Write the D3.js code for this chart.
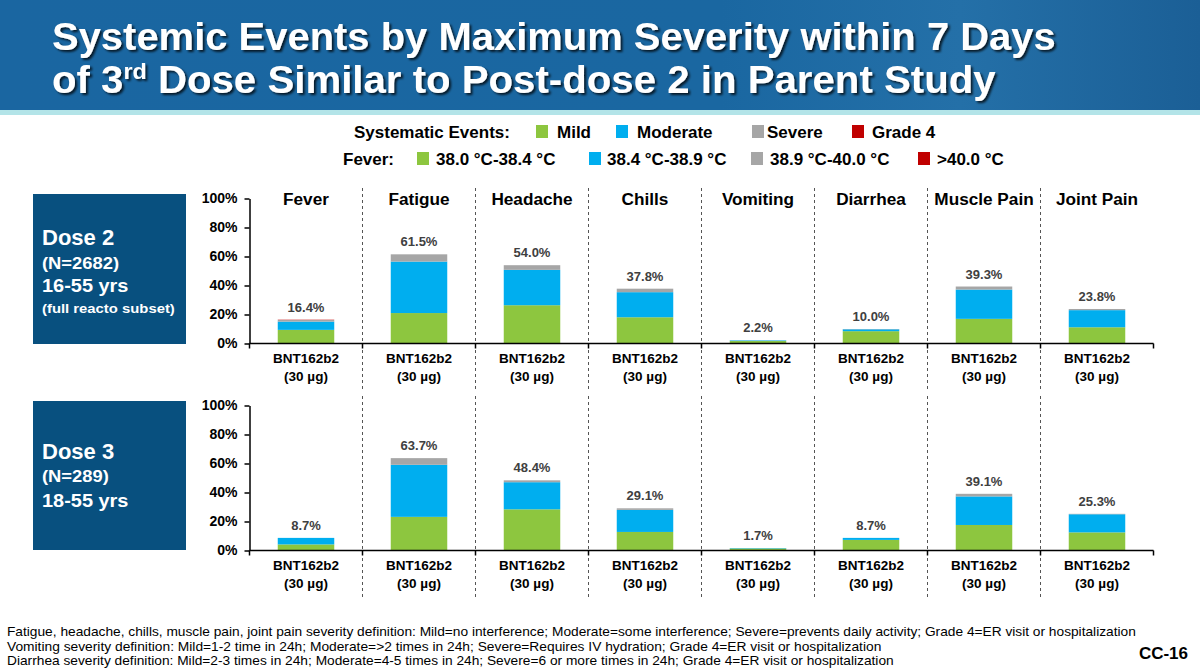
<!DOCTYPE html>
<html>
<head>
<meta charset="utf-8">
<script src="https://cdn.jsdelivr.net/npm/d3@7"></script>
<style>
  html, body { margin: 0; padding: 0; background: #fff; }
  svg { display: block; font-family: "Liberation Sans", Arial, sans-serif; }
</style>
</head>
<body>
<svg id="chart" width="1200" height="672"></svg>
<script>
// ---------------- DATA ----------------
const categories = ["Fever", "Fatigue", "Headache", "Chills", "Vomiting", "Diarrhea", "Muscle Pain", "Joint Pain"];
const severityKeys = ["mild", "moderate", "severe", "grade4"];
const xLabelLine1 = "BNT162b2";
const xLabelLine2 = "(30 µg)";
const yTicks = [0, 20, 40, 60, 80, 100];

// Dose 2 (N=2682) values, % of participants
const dose2Mild     = [9.4, 21.0, 26.4, 18.1, 1.7, 8.5, 17.0, 11.2];
const dose2Moderate = [5.7, 35.5, 24.4, 17.3, 0.4, 1.3, 20.2, 11.8];
const dose2Severe   = [1.1, 5.0, 3.2, 2.4, 0.1, 0.2, 2.1, 0.8];
const dose2Grade4   = [0.2, 0.0, 0.0, 0.0, 0.0, 0.0, 0.0, 0.0];
const dose2Totals   = ["16.4%", "61.5%", "54.0%", "37.8%", "2.2%", "10.0%", "39.3%", "23.8%"];

// Dose 3 (N=289) values
const dose3Mild     = [4.2, 23.2, 28.4, 12.8, 1.4, 7.3, 17.6, 12.5];
const dose3Moderate = [4.5, 35.9, 18.7, 15.2, 0.3, 1.4, 19.7, 12.5];
const dose3Severe   = [0.0, 4.6, 1.3, 1.1, 0.0, 0.0, 1.8, 0.3];
const dose3Grade4   = [0.0, 0.0, 0.0, 0.0, 0.0, 0.0, 0.0, 0.0];
const dose3Totals   = ["8.7%", "63.7%", "48.4%", "29.1%", "1.7%", "8.7%", "39.1%", "25.3%"];

const legendEventLabels = ["Mild", "Moderate", "Severe", "Grade 4"];
const legendFeverLabels = ["38.0 °C-38.4 °C", "38.4 °C-38.9 °C", "38.9 °C-40.0 °C", ">40.0 °C"];

const panels = [
  { mild: dose2Mild, moderate: dose2Moderate, severe: dose2Severe, grade4: dose2Grade4, totals: dose2Totals,
    boxLines: ["Dose 2", "(N=2682)", "16-55 yrs", "(full reacto subset)"], showTitles: true },
  { mild: dose3Mild, moderate: dose3Moderate, severe: dose3Severe, grade4: dose3Grade4, totals: dose3Totals,
    boxLines: ["Dose 3", "(N=289)", "18-55 yrs"], showTitles: false }
];

const footnotes = [
  "Fatigue, headache, chills, muscle pain, joint pain severity definition: Mild=no interference; Moderate=some interference; Severe=prevents daily activity; Grade 4=ER visit or hospitalization",
  "Vomiting severity definition: Mild=1-2 time in 24h; Moderate=>2 times in 24h; Severe=Requires IV hydration; Grade 4=ER visit or hospitalization",
  "Diarrhea severity definition: Mild=2-3 times in 24h; Moderate=4-5 times in 24h; Severe=6 or more times in 24h; Grade 4=ER visit or hospitalization"
];

// ---------------- STYLE ----------------
const colors = { mild: "#8dc63f", moderate: "#00aeef", severe: "#a6a6a6", grade4: "#c00000" };
const FONT = "'Liberation Sans', Arial, sans-serif";

const svg = d3.select("#chart");

// ---------------- HEADER ----------------
const defs = svg.append("defs");
const grad = defs.append("linearGradient").attr("id", "hdr").attr("x1", 0).attr("x2", 1).attr("y1", 0).attr("y2", 0);
grad.append("stop").attr("offset", "0%").attr("stop-color", "#1a66a1");
grad.append("stop").attr("offset", "60%").attr("stop-color", "#1a67a1");
grad.append("stop").attr("offset", "80%").attr("stop-color", "#2470a8");
grad.append("stop").attr("offset", "100%").attr("stop-color", "#1b5f96");
const shadow = defs.append("filter").attr("id", "shadow").attr("x", "-5%").attr("y", "-20%").attr("width", "110%").attr("height", "150%");
shadow.append("feDropShadow").attr("dx", 2).attr("dy", 2).attr("stdDeviation", 1.2).attr("flood-color", "#000").attr("flood-opacity", 0.75);

svg.append("rect").attr("x", 0).attr("y", 0).attr("width", 1200).attr("height", 110).attr("fill", "url(#hdr)");
svg.append("rect").attr("x", 0).attr("y", 110).attr("width", 1200).attr("height", 5).attr("fill", "#b3e4e8");

function fitWidth(sel, target) {
  const w = sel.node().getBBox().width;
  if (w > 0) {
    const x = +sel.attr("x") || 0;
    sel.attr("transform", `translate(${x},0) scale(${target / w},1) translate(${-x},0)`);
  }
}

const t1 = svg.append("text").attr("x", 52).attr("y", 50)
  .attr("fill", "#fff").attr("font-weight", "bold").attr("font-size", 38).attr("filter", "url(#shadow)")
  .text("Systemic Events by Maximum Severity within 7 Days");
fitWidth(t1, 1004);
const t2 = svg.append("text").attr("x", 52).attr("y", 93)
  .attr("fill", "#fff").attr("font-weight", "bold").attr("font-size", 38).attr("filter", "url(#shadow)");
t2.append("tspan").text("of 3");
t2.append("tspan").attr("font-size", 22).attr("dy", -14).text("rd");
t2.append("tspan").attr("dy", 14).text(" Dose Similar to Post-dose 2 in Parent Study");
fitWidth(t2, 944);

// ---------------- LEGEND ----------------
const legend = svg.append("g").attr("font-weight", "bold").attr("font-size", 17).attr("fill", "#000");
legend.append("text").attr("x", 354).attr("y", 138).text("Systematic Events:");
const evSq = [536, 616, 752, 852];
const evTx = [557, 637, 767, 872];
severityKeys.forEach((k, i) => {
  legend.append("rect").attr("x", evSq[i]).attr("y", 125).attr("width", 12).attr("height", 13).attr("fill", colors[k]);
  legend.append("text").attr("x", evTx[i]).attr("y", 138).text(legendEventLabels[i]);
});
legend.append("text").attr("x", 343).attr("y", 165).text("Fever:");
const fvSq = [417, 589, 751, 918];
const fvTx = [436, 607, 770, 937];
severityKeys.forEach((k, i) => {
  legend.append("rect").attr("x", fvSq[i]).attr("y", 152).attr("width", 12).attr("height", 13).attr("fill", colors[k]);
  legend.append("text").attr("x", fvTx[i]).attr("y", 165).text(legendFeverLabels[i]);
});

// ---------------- PANELS ----------------
const x = d3.scaleBand().domain(categories).range([249.5, 1153.5]).padding(0);
const barW = x.bandwidth() * 0.5;
const panelGeom = [
  { base: 343.5, top: 198.5, boxY: 194, boxH: 150, sepTop: 188, sepBot: 392, lab1: 363, lab2: 381, lineY: [245, 269, 292, 313] },
  { base: 550.5, top: 405.5, boxY: 401, boxH: 149, sepTop: 396, sepBot: 598, lab1: 570, lab2: 588, lineY: [459, 482, 507] }
];
const lineSz = [22, 17, 17.5, 13.5];
const lineStretch = [1.0, 1.08, 1.14, 1.1];

panels.forEach((p, pi) => {
  const g = panelGeom[pi];
  const y = d3.scaleLinear().domain([0, 100]).range([g.base, g.top]);
  const pg = svg.append("g");

  // left box
  pg.append("rect").attr("x", 33).attr("y", g.boxY).attr("width", 153).attr("height", g.boxH).attr("fill", "#08507f");
  const bt = pg.append("g").attr("fill", "#fff").attr("font-weight", "bold");
  p.boxLines.forEach((l, i) => {
    const t = bt.append("text").attr("x", 42).attr("y", g.lineY[i]).attr("font-size", lineSz[i]).text(l);
    const w = t.node().getBBox().width;
    fitWidth(t, w * lineStretch[i]);
  });

  // dashed separators
  const seps = categories.slice(1).map(c => x(c));
  pg.selectAll(".sep").data(seps).join("line")
    .attr("x1", d => d).attr("x2", d => d)
    .attr("y1", g.sepTop).attr("y2", g.sepBot)
    .attr("stroke", "#555").attr("stroke-width", 1).attr("stroke-dasharray", "3,3");

  // stacked bars
  const rows = categories.map((c, i) => ({ cat: c, mild: p.mild[i], moderate: p.moderate[i], severe: p.severe[i], grade4: p.grade4[i] }));
  const stacked = d3.stack().keys(severityKeys)(rows);
  stacked.forEach(layer => {
    pg.selectAll(null).data(layer).join("rect")
      .attr("x", d => x(d.data.cat) + (x.bandwidth() - barW) / 2)
      .attr("width", barW)
      .attr("y", d => y(d[1]))
      .attr("height", d => Math.max(0, y(d[0]) - y(d[1])))
      .attr("fill", colors[layer.key]);
  });

  // total labels
  pg.selectAll(null).data(rows).join("text")
    .attr("x", d => x(d.cat) + x.bandwidth() / 2)
    .attr("y", d => y(d.mild + d.moderate + d.severe + d.grade4) - 8)
    .attr("text-anchor", "middle").attr("font-size", 13).attr("font-weight", "bold").attr("fill", "#404040")
    .text((d, i) => p.totals[i]);

  // y axis
  const yAxis = d3.axisLeft(y).tickValues(yTicks).tickFormat(d => d + "%").tickSize(5).tickSizeOuter(0);
  const ya = pg.append("g").attr("transform", "translate(249.5,0)").call(yAxis);
  ya.select(".domain").attr("stroke", "#000").attr("stroke-width", 1.5);
  ya.selectAll(".tick line").attr("stroke", "#000").attr("stroke-width", 1.5);
  ya.selectAll(".tick text").attr("font-family", FONT).attr("font-size", 14).attr("font-weight", "bold").attr("fill", "#000").attr("x", -12);

  // x baseline with ticks at band boundaries
  pg.append("line").attr("x1", 249.5).attr("x2", 1153.5).attr("y1", g.base).attr("y2", g.base).attr("stroke", "#000").attr("stroke-width", 1.5);
  const bounds = categories.map(c => x(c)).concat([x.range()[1]]);
  pg.selectAll(null).data(bounds).join("line")
    .attr("x1", d => d).attr("x2", d => d).attr("y1", g.base).attr("y2", g.base + 5)
    .attr("stroke", "#000").attr("stroke-width", 1.5);

  // x labels
  pg.selectAll(null).data(categories).join("text")
    .attr("x", d => x(d) + x.bandwidth() / 2).attr("y", g.lab1)
    .attr("text-anchor", "middle").attr("font-size", 13.5).attr("font-weight", "bold").text(xLabelLine1);
  pg.selectAll(null).data(categories).join("text")
    .attr("x", d => x(d) + x.bandwidth() / 2).attr("y", g.lab2)
    .attr("text-anchor", "middle").attr("font-size", 13.5).attr("font-weight", "bold").text(xLabelLine2);

  // category titles
  if (p.showTitles) {
    pg.selectAll(null).data(categories).join("text")
      .attr("x", d => x(d) + x.bandwidth() / 2).attr("y", 205)
      .attr("text-anchor", "middle").attr("font-size", 17.2).attr("font-weight", "bold").text(d => d);
  }
});

// ---------------- FOOTNOTES ----------------
const fnTargets = [1130, 875, 888];
footnotes.forEach((f, i) => {
  const t = svg.append("text").attr("x", 7).attr("y", 636 + i * 14.7).attr("font-size", 13).attr("fill", "#000").text(f);
  fitWidth(t, fnTargets[i]);
});
svg.append("text").attr("x", 1188).attr("y", 659).attr("text-anchor", "end")
  .attr("font-size", 17).attr("font-weight", "bold").text("CC-16");
</script>
</body>
</html>
